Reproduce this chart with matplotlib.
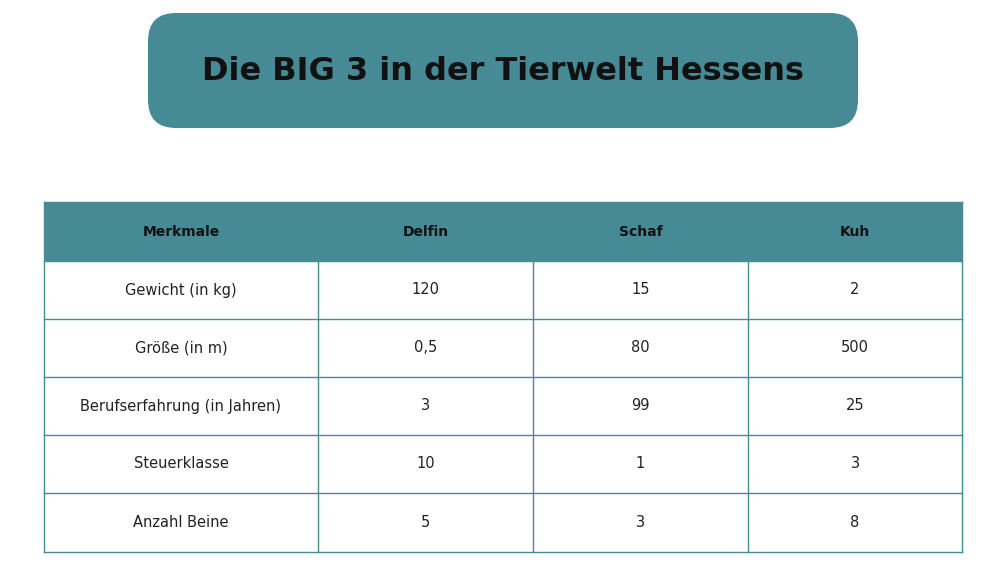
import matplotlib
matplotlib.use("Agg")
import matplotlib.pyplot as plt
from matplotlib.patches import FancyBboxPatch, Rectangle

title = "Die BIG 3 in der Tierwelt Hessens"
columns = ["Merkmale", "Delfin", "Schaf", "Kuh"]
row_labels = ["Gewicht (in kg)", "Größe (in m)", "Berufserfahrung (in Jahren)", "Steuerklasse", "Anzahl Beine"]
delfin = ["120", "0,5", "3", "10", "5"]
schaf = ["15", "80", "99", "1", "3"]
kuh = ["2", "500", "25", "3", "8"]

teal = "#468A96"
W, H = 987, 577
fig = plt.figure(figsize=(W/100, H/100), dpi=100)
ax = fig.add_axes([0, 0, 1, 1])
ax.set_xlim(0, W); ax.set_ylim(H, 0); ax.axis("off")

ax.add_patch(FancyBboxPatch((148, 13), 710, 115, boxstyle="round,pad=0,rounding_size=28",
                            fc=teal, ec="none"))
ax.text(503, 72, title, ha="center", va="center", fontsize=23, fontweight="bold", color="#111111")

xs = [44, 318, 533, 748, 962]
ys = [202, 261, 319, 377, 435, 493, 552]
ax.add_patch(Rectangle((xs[0], ys[0]), xs[-1]-xs[0], ys[1]-ys[0], fc=teal, ec="none"))
for c, name in enumerate(columns):
    ax.text((xs[c]+xs[c+1])/2, (ys[0]+ys[1])/2, name, ha="center", va="center",
            fontsize=10, fontweight="bold", color="#111111")
rows = list(zip(row_labels, delfin, schaf, kuh))
for r, row in enumerate(rows):
    for c, val in enumerate(row):
        ax.text((xs[c]+xs[c+1])/2, (ys[r+1]+ys[r+2])/2, val, ha="center", va="center",
                fontsize=10.5, color="#222222")
lc = teal
for y in ys[1:]:
    ax.plot([xs[0], xs[-1]], [y, y], color=lc, lw=1)
for x in xs:
    ax.plot([x, x], [ys[1] if x not in (xs[0], xs[-1]) else ys[0], ys[-1]], color=lc, lw=1)
ax.plot([xs[0], xs[-1]], [ys[0], ys[0]], color=lc, lw=1)
fig.savefig("out.png", dpi=100)
